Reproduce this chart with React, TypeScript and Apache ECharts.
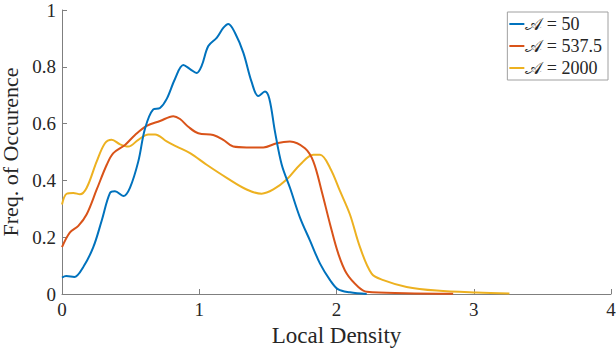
import React, { useEffect, useRef } from "react";
import * as echarts from "echarts";

const seriesNames = ["𝒜 = 50", "𝒜 = 537.5", "𝒜 = 2000"];
const colors = ["#0072BD", "#D95319", "#EDB120"];

const blueX = [0, 0.03, 0.09, 0.155, 0.228, 0.289, 0.35, 0.386, 0.447, 0.495, 0.556, 0.605, 0.665, 0.714, 0.763, 0.823, 0.884, 0.933, 0.981, 1.018, 1.066, 1.127, 1.175, 1.212, 1.26, 1.321, 1.382, 1.43, 1.479, 1.511, 1.552, 1.601, 1.661, 1.734, 1.807, 1.88, 1.953, 2.013, 2.098, 2.22];
const blueY = [0.058, 0.063, 0.06, 0.095, 0.165, 0.258, 0.356, 0.362, 0.345, 0.374, 0.467, 0.583, 0.65, 0.655, 0.687, 0.757, 0.806, 0.792, 0.778, 0.804, 0.873, 0.902, 0.937, 0.951, 0.92, 0.85, 0.746, 0.697, 0.713, 0.687, 0.571, 0.455, 0.374, 0.269, 0.188, 0.107, 0.049, 0.016, 0.006, 0.0];

const redX = [0, 0.058, 0.119, 0.18, 0.253, 0.326, 0.374, 0.459, 0.532, 0.617, 0.714, 0.811, 0.86, 0.92, 0.993, 1.102, 1.175, 1.248, 1.345, 1.467, 1.564, 1.661, 1.77, 1.831, 1.892, 1.953, 2.013, 2.074, 2.159, 2.22, 2.5, 2.85];
const redY = [0.165, 0.217, 0.24, 0.281, 0.368, 0.455, 0.496, 0.525, 0.56, 0.592, 0.609, 0.626, 0.616, 0.589, 0.566, 0.56, 0.543, 0.519, 0.516, 0.516, 0.531, 0.537, 0.513, 0.467, 0.362, 0.246, 0.142, 0.072, 0.025, 0.008, 0.003, 0.001];

const yelX = [0, 0.034, 0.082, 0.131, 0.18, 0.253, 0.313, 0.362, 0.423, 0.483, 0.556, 0.629, 0.678, 0.763, 0.836, 0.933, 1.054, 1.2, 1.345, 1.455, 1.54, 1.637, 1.734, 1.831, 1.88, 1.953, 2.026, 2.098, 2.171, 2.256, 2.341, 2.511, 2.73, 3.02, 3.26];
const yelY = [0.315, 0.353, 0.356, 0.351, 0.374, 0.467, 0.531, 0.543, 0.527, 0.519, 0.543, 0.562, 0.562, 0.537, 0.519, 0.496, 0.455, 0.409, 0.368, 0.353, 0.368, 0.403, 0.455, 0.49, 0.49, 0.444, 0.362, 0.28, 0.165, 0.072, 0.049, 0.025, 0.012, 0.005, 0.002];

const xTicks = ["0", "1", "2", "3", "4"];
const yTicks = ["0", "0.2", "0.4", "0.6", "0.8", "1"];

const FONT = "Liberation Serif";
const TEXT = "#262626";
const AXIS = "#7f7f7f";

function pairs(xs: number[], ys: number[]) {
  return xs.map((x, i) => [x, ys[i]]);
}

export default function App() {
  const ref = useRef<HTMLDivElement>(null);
  useEffect(() => {
    if (!ref.current) return;
    const chart = echarts.init(ref.current, undefined, { renderer: "svg" });
    const all = [pairs(blueX, blueY), pairs(redX, redY), pairs(yelX, yelY)];
    chart.setOption({
      animation: false,
      backgroundColor: "#ffffff",
      grid: { left: 62, right: 5, top: 10, bottom: 54, containLabel: false, outerBoundsMode: "none" },
      legend: {
        orient: "vertical",
        right: 8,
        top: 12,
        data: seriesNames,
        icon: "rect",
        itemWidth: 15,
        itemHeight: 2,
        itemGap: 4,
        padding: [3, 6, 3, 2],
        backgroundColor: "#ffffff",
        borderColor: "#a0a0a0",
        borderWidth: 1,
        textStyle: { fontFamily: FONT, fontSize: 18, color: TEXT, padding: [0, 0, 0, -4] },
      },
      xAxis: {
        type: "value",
        min: 0,
        max: 4,
        interval: 1,
        name: "Local Density",
        nameLocation: "middle",
        nameGap: 29,
        nameTextStyle: { fontFamily: FONT, fontSize: 23, color: TEXT },
        axisLine: { show: true, lineStyle: { color: AXIS, width: 1 } },
        axisTick: { show: true, inside: true, length: 5, lineStyle: { color: AXIS } },
        axisLabel: {
          fontFamily: FONT,
          fontSize: 19,
          color: TEXT,
          margin: 6,
          formatter: (v: number) => xTicks[Math.round(v)] ?? "",
        },
        splitLine: { show: false },
      },
      yAxis: {
        type: "value",
        min: 0,
        max: 1,
        interval: 0.2,
        name: "Freq. of Occurence",
        nameLocation: "middle",
        nameGap: 31,
        nameTextStyle: { fontFamily: FONT, fontSize: 22, color: TEXT },
        axisLine: { show: true, lineStyle: { color: AXIS, width: 1 } },
        axisTick: { show: true, inside: true, length: 5, lineStyle: { color: AXIS } },
        axisLabel: {
          fontFamily: FONT,
          fontSize: 19,
          color: TEXT,
          margin: 6,
          formatter: (v: number) => yTicks[Math.round(v * 5)] ?? "",
        },
        splitLine: { show: false },
      },
      series: all.map((d, i) => ({
        name: seriesNames[i],
        type: "line",
        data: d,
        smooth: 0.35,
        showSymbol: false,
        symbol: "none",
        lineStyle: { color: colors[i], width: 2 },
        itemStyle: { color: colors[i] },
        z: 3 - i,
      })),
    });
    return () => chart.dispose();
  }, []);
  return (
    <div
      ref={ref}
      style={{ position: "fixed", left: 0, top: 0, width: 616, height: 348 }}
    />
  );
}
